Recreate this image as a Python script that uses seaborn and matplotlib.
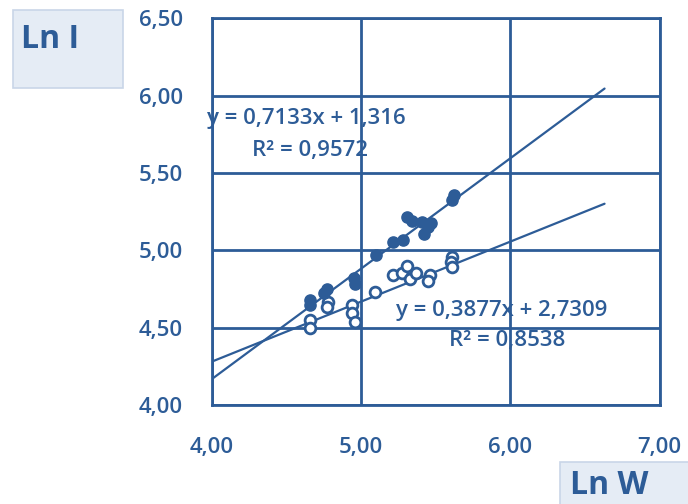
import numpy as np
import pandas as pd
import matplotlib
matplotlib.use("Agg")
import matplotlib.pyplot as plt
import seaborn as sns

# values
lnw_filled = [5.62, 5.61, 5.31, 5.34, 5.41, 5.47, 5.45, 5.42, 5.21, 5.28,
              5.10, 4.95, 4.96, 4.77, 4.75, 4.66, 4.66]
lni_filled = [5.357, 5.324, 5.214, 5.189, 5.182, 5.176, 5.150, 5.105, 5.053, 5.066,
              4.969, 4.820, 4.782, 4.749, 4.723, 4.678, 4.646]

lnw_open = [5.61, 5.60, 5.61, 5.21, 5.27, 5.31, 5.33, 5.37, 5.46, 5.45,
            5.09, 4.94, 4.94, 4.96, 4.78, 4.77, 4.66, 4.66]
lni_open = [4.956, 4.924, 4.891, 4.840, 4.853, 4.898, 4.814, 4.853, 4.840, 4.801,
            4.730, 4.646, 4.594, 4.536, 4.665, 4.633, 4.549, 4.497]

# trend lines as printed on the chart
slope_filled, icept_filled = 0.7133, 1.316
slope_open, icept_open = 0.3877, 2.7309
eq_labels = ["y = 0,7133x + 1,316", "R² = 0,9572",
             "y = 0,3877x + 2,7309", "R² = 0,8538"]
trend_range = [4.00, 6.63]

x_ticks = [4.0, 5.0, 6.0, 7.0]
y_ticks = [4.0, 4.5, 5.0, 5.5, 6.0, 6.5]

BLUE = "#2d5c97"

sns.set_theme(style="white")
plt.rcParams["font.family"] = ["Open Sans", "DejaVu Sans"]

df_f = pd.DataFrame({"lnw": lnw_filled, "lni": lni_filled})
df_o = pd.DataFrame({"lnw": lnw_open, "lni": lni_open})
xs = np.array(trend_range)
df_tf = pd.DataFrame({"lnw": xs, "lni": slope_filled * xs + icept_filled})
df_to = pd.DataFrame({"lnw": xs, "lni": slope_open * xs + icept_open})

fig = plt.figure(figsize=(6.88, 5.04), dpi=100)
ax = fig.add_axes([0.308, 0.196, 0.651, 0.768])

sns.lineplot(data=df_tf, x="lnw", y="lni", color=BLUE, lw=1.6, ax=ax, zorder=3)
sns.lineplot(data=df_to, x="lnw", y="lni", color=BLUE, lw=1.6, ax=ax, zorder=3)
sns.scatterplot(data=df_o, x="lnw", y="lni", s=60, facecolor="white",
                edgecolor=BLUE, linewidth=2, ax=ax, zorder=4)
sns.scatterplot(data=df_f, x="lnw", y="lni", s=65, color=BLUE,
                edgecolor=BLUE, linewidth=1, ax=ax, zorder=5)

ax.set_xlim(4.0, 7.0)
ax.set_ylim(4.0, 6.5)
ax.set_xticks(x_ticks)
ax.set_yticks(y_ticks)
fmt = lambda v: f"{v:.2f}".replace(".", ",")
ax.set_xticklabels([fmt(v) for v in x_ticks])
ax.set_yticklabels([fmt(v) for v in y_ticks])
ax.grid(True, color=BLUE, lw=2)
ax.set_axisbelow(True)
for s in ax.spines.values():
    s.set_color(BLUE)
    s.set_linewidth(2)
ax.tick_params(axis="both", colors=BLUE, length=7, width=2, direction="out",
               labelsize=16, pad=14)
ax.tick_params(axis="x", pad=16)
for lab in ax.get_xticklabels() + ax.get_yticklabels():
    lab.set_fontweight("semibold")
ax.set_xlabel("")
ax.set_ylabel("")

txt = dict(color=BLUE, fontsize=16, fontweight="semibold", ha="left", va="center")
ax.text(3.97, 5.854, eq_labels[0], **txt)
ax.text(4.27, 5.647, eq_labels[1], **txt)
ax.text(5.23, 4.614, eq_labels[2], **txt)
ax.text(5.59, 4.42, eq_labels[3], **txt)

# axis title boxes
fig.patches.append(plt.Rectangle((0.019, 0.825), 0.160, 0.155, transform=fig.transFigure,
                                 fc="#e5ecf5", ec="#c9d6e8", lw=1.2, zorder=0))
fig.text(0.031, 0.922, "Ln I", color=BLUE, fontsize=23, fontweight="bold",
         ha="left", va="center")
fig.patches.append(plt.Rectangle((0.814, -0.01), 0.20, 0.094, transform=fig.transFigure,
                                 fc="#e5ecf5", ec="#c9d6e8", lw=1.2, zorder=0))
fig.text(0.828, 0.003, "Ln W", color=BLUE, fontsize=23, fontweight="bold",
         ha="left", va="bottom")

fig.savefig("out.png", dpi=100)
